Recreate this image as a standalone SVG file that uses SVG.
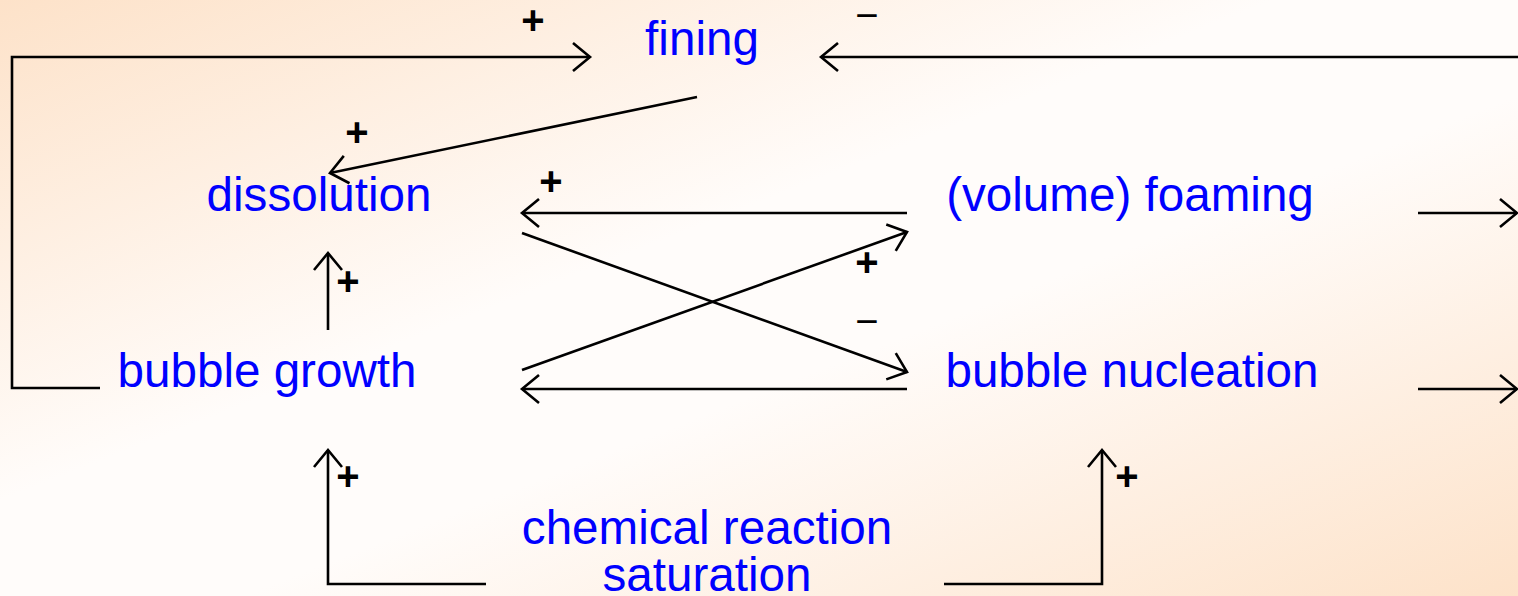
<svg xmlns="http://www.w3.org/2000/svg" width="1518" height="596" viewBox="0 0 1518 596">
<defs>
<linearGradient id="bg" x1="0" y1="0" x2="1" y2="1">
<stop offset="0" stop-color="#fde2c9"/>
<stop offset="0.42" stop-color="#fffcfa"/>
<stop offset="0.58" stop-color="#fffcfa"/>
<stop offset="1" stop-color="#fde2c9"/>
</linearGradient>
<marker id="arr" markerUnits="userSpaceOnUse" markerWidth="40" markerHeight="40" viewBox="-20 -20 40 40" refX="0" refY="0" orient="auto">
<path d="M -17 -14 L 0 0 L -17 14" fill="none" stroke="#000" stroke-width="2.6"/>
</marker>
</defs>
<style>
.node{font-family:"Liberation Sans",Arial,sans-serif;font-size:47.6px;fill:#0000ff;text-anchor:middle}
.c{fill:none;stroke:#000;stroke-width:2.6;marker-end:url(#arr)}
.p{font-family:"Liberation Sans",Arial,sans-serif;font-size:40px;font-weight:bold;fill:#000;text-anchor:middle}
.m{font-family:"Liberation Sans",Arial,sans-serif;font-size:40px;fill:#000;text-anchor:middle}
</style>
<rect width="1518" height="596" fill="url(#bg)"/>
<g id="connectors">
<polyline class="c" points="100,388 12,388 12,57 590,57"/>
<line class="c" x1="1520" y1="57" x2="821" y2="57"/>
<line class="c" x1="697" y1="97" x2="330" y2="173"/>
<line class="c" x1="907" y1="213" x2="522" y2="213"/>
<line class="c" x1="522" y1="233" x2="907" y2="372"/>
<line class="c" x1="522" y1="370" x2="907" y2="232"/>
<line class="c" x1="907" y1="389" x2="522" y2="389"/>
<line class="c" x1="328" y1="330" x2="328" y2="253"/>
<polyline class="c" points="486,584 328,584 328,450"/>
<polyline class="c" points="944,584 1102,584 1102,450"/>
<line class="c" x1="1418" y1="213" x2="1517" y2="213"/>
<line class="c" x1="1418" y1="389" x2="1517" y2="389"/>
<text class="p" x="533" y="34">+</text>
<text class="m" x="867" y="29">−</text>
<text class="p" x="357" y="146">+</text>
<text class="p" x="551" y="195">+</text>
<text class="p" x="867" y="276">+</text>
<text class="m" x="867" y="335">−</text>
<text class="p" x="348" y="295">+</text>
<text class="p" x="348" y="490">+</text>
<text class="p" x="1127" y="490">+</text>
</g>
<g id="fining"><text class="node" x="702" y="55">fining</text></g>
<g id="dissolution"><text class="node" x="319" y="211">dissolution</text></g>
<g id="foaming"><text class="node" x="1130" y="211">(volume) foaming</text></g>
<g id="growth"><text class="node" x="267" y="387">bubble growth</text></g>
<g id="nucleation"><text class="node" x="1132" y="387">bubble nucleation</text></g>
<g id="chemical"><text class="node" x="707" y="544">chemical reaction</text><text class="node" x="707" y="591">saturation</text></g>
</svg>
